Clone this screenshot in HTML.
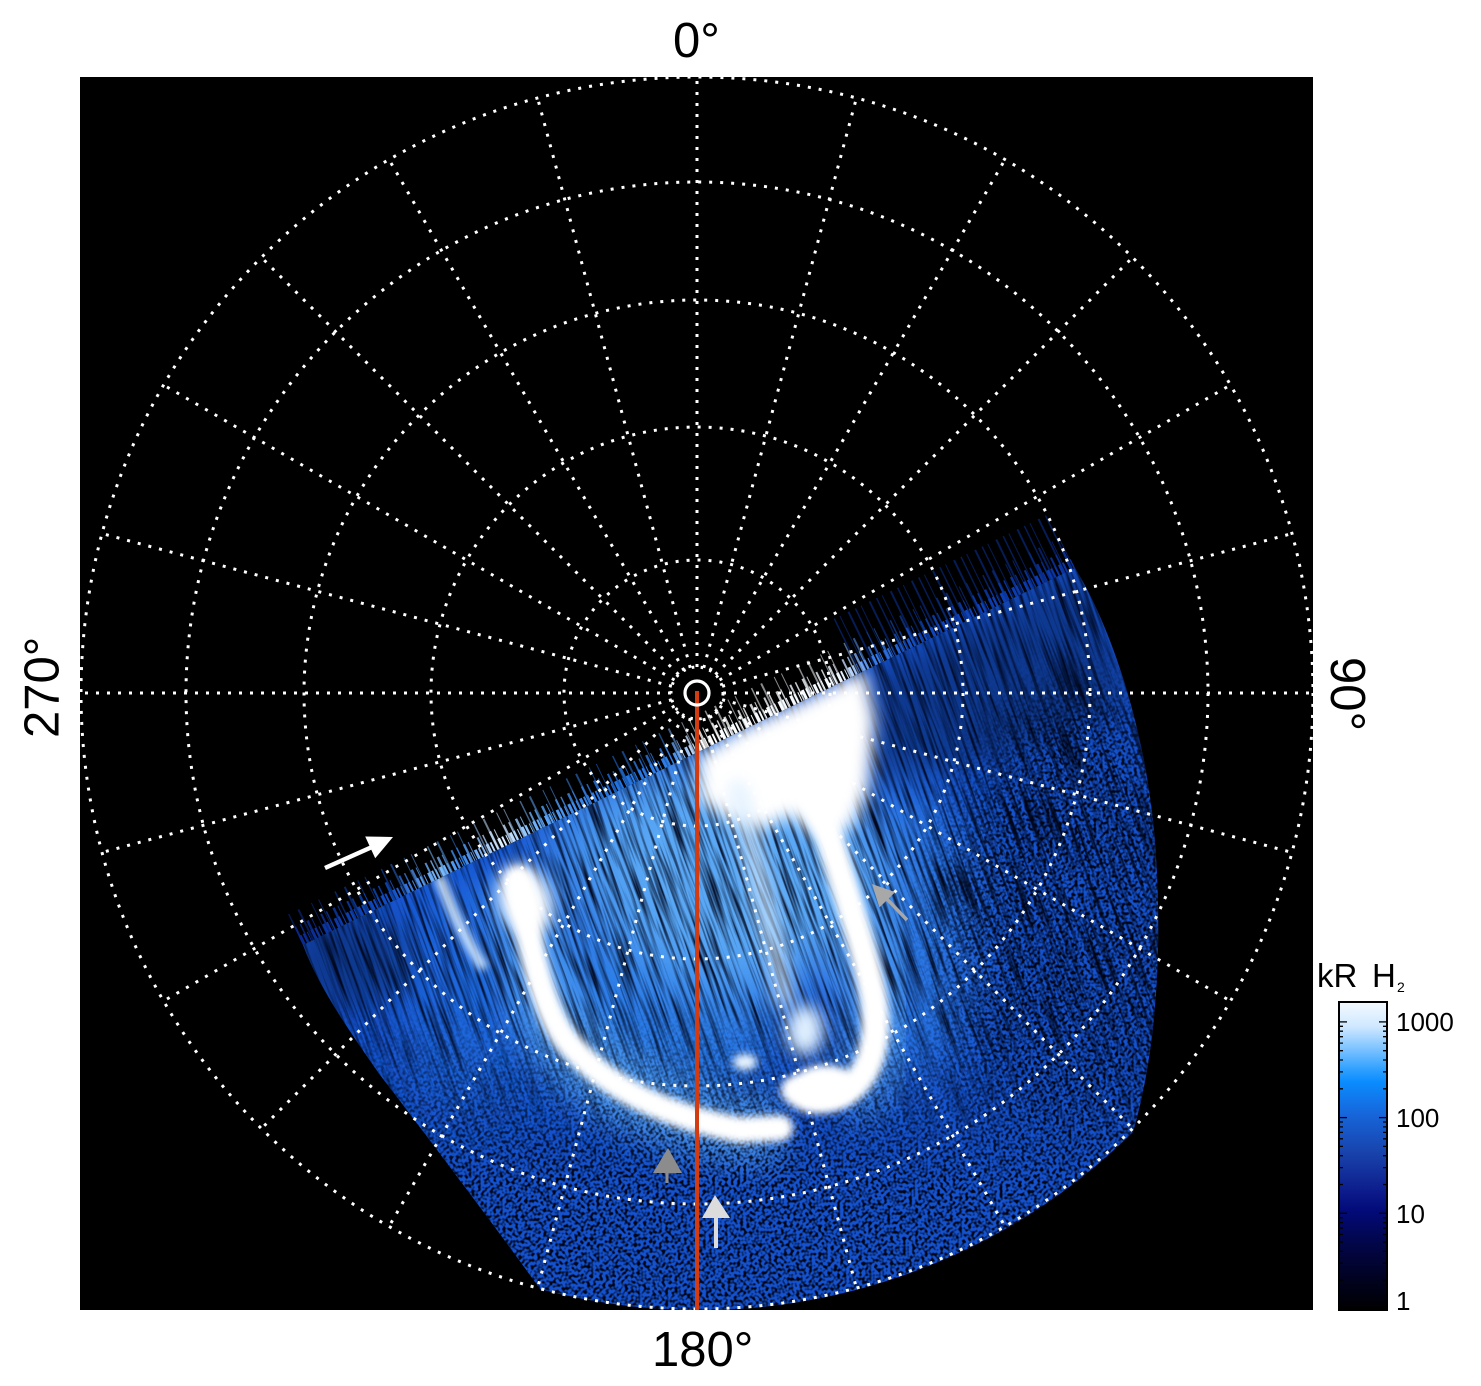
<!DOCTYPE html>
<html><head><meta charset="utf-8"><style>html,body{margin:0;padding:0;background:#fff;width:1481px;height:1386px;overflow:hidden}svg{display:block}</style></head>
<body>
<svg width="1481" height="1386" viewBox="0 0 1481 1386" xmlns="http://www.w3.org/2000/svg" font-family="'Liberation Sans', Arial, sans-serif">
<defs>
  <clipPath id="reg">
    <path d="M303,945 L1075,568 C1110,625 1142,720 1153,820 C1163,920 1160,1040 1133,1132 A616,616 0 0,1 540,1289 C505,1240 430,1140 380,1075 C345,1025 318,985 303,945 Z"/>
  </clipPath>
  <filter id="b4" x="-50%" y="-50%" width="200%" height="200%"><feGaussianBlur stdDeviation="4"/></filter>
  <filter id="b8" x="-50%" y="-50%" width="200%" height="200%"><feGaussianBlur stdDeviation="8"/></filter>
  <filter id="b15" x="-50%" y="-50%" width="200%" height="200%"><feGaussianBlur stdDeviation="15"/></filter>
  <filter id="b30" x="-60%" y="-60%" width="220%" height="220%"><feGaussianBlur stdDeviation="30"/></filter>
  <filter id="fStreak" x="0" y="0" width="1" height="1" color-interpolation-filters="sRGB">
    <feTurbulence type="fractalNoise" baseFrequency="0.28 0.014" numOctaves="2" seed="4"/>
    <feColorMatrix type="matrix" values="0 0 0 0 0  0 0 0 0 0.03  0 0 0 0 0.12  -2.6 0 0 0 1.5"/>
  </filter>
  <filter id="fSpeck" x="0" y="0" width="1" height="1" color-interpolation-filters="sRGB">
    <feTurbulence type="fractalNoise" baseFrequency="0.32" numOctaves="1" seed="9"/>
    <feColorMatrix type="matrix" values="0 0 0 0 0  0 0 0 0 0.02  0 0 0 0 0.08  -4 0 0 0 2.3"/>
  </filter>
  <linearGradient id="gStreakM" gradientUnits="userSpaceOnUse" x1="0" y1="1000" x2="0" y2="1180">
    <stop offset="0" stop-color="#fff"/><stop offset="1" stop-color="#000"/>
  </linearGradient>
  <linearGradient id="gSpeckM" gradientUnits="userSpaceOnUse" x1="0" y1="1000" x2="0" y2="1180">
    <stop offset="0" stop-color="#000"/><stop offset="1" stop-color="#fff"/>
  </linearGradient>
  <mask id="mStreak" maskUnits="userSpaceOnUse" x="0" y="0" width="1481" height="1386">
    <rect x="0" y="0" width="1481" height="1386" fill="url(#gStreakM)"/>
  </mask>
  <mask id="mSpeck" maskUnits="userSpaceOnUse" x="0" y="0" width="1481" height="1386">
    <rect x="0" y="0" width="1481" height="1386" fill="url(#gSpeckM)"/>
    <ellipse cx="1080" cy="930" rx="130" ry="240" fill="#fff" filter="url(#b30)"/>
  </mask>
  <linearGradient id="gEdge" gradientUnits="userSpaceOnUse" x1="303" y1="945" x2="1075" y2="568">
    <stop offset="0" stop-color="#0a2a90"/>
    <stop offset="0.12" stop-color="#1050c8"/>
    <stop offset="0.18" stop-color="#80c0ff"/>
    <stop offset="0.21" stop-color="#3080e8"/>
    <stop offset="0.26" stop-color="#e0f0ff"/>
    <stop offset="0.31" stop-color="#60a8f8"/>
    <stop offset="0.40" stop-color="#2070e0"/>
    <stop offset="0.48" stop-color="#3080e8"/>
    <stop offset="0.52" stop-color="#ffffff"/>
    <stop offset="0.70" stop-color="#f0f8ff"/>
    <stop offset="0.74" stop-color="#3a80e8"/>
    <stop offset="0.80" stop-color="#1048c0"/>
    <stop offset="1" stop-color="#0a35a8"/>
  </linearGradient>
  <linearGradient id="gBar" x1="0" y1="0" x2="0" y2="1">
    <stop offset="0" stop-color="#f4faff"/>
    <stop offset="0.08" stop-color="#cfe8ff"/>
    <stop offset="0.15" stop-color="#7fc4ff"/>
    <stop offset="0.22" stop-color="#2ea0ff"/>
    <stop offset="0.26" stop-color="#0a8cff"/>
    <stop offset="0.37" stop-color="#1764d8"/>
    <stop offset="0.5" stop-color="#1840a8"/>
    <stop offset="0.62" stop-color="#0c1a8a"/>
    <stop offset="0.68" stop-color="#020a78"/>
    <stop offset="0.78" stop-color="#02064a"/>
    <stop offset="0.9" stop-color="#010220"/>
    <stop offset="1" stop-color="#000000"/>
  </linearGradient>
</defs>

<rect x="0" y="0" width="1481" height="1386" fill="#fff"/>
<rect x="80" y="77" width="1233" height="1233" fill="#000"/>

<!-- edge teeth -->
<g fill="none" stroke="url(#gEdge)">
  <line x1="300.8" y1="940.5" x2="1072.8" y2="563.5" stroke-width="10" stroke-dasharray="3 1.5 2 2.5 1 3"/>
  <line x1="298.6" y1="936" x2="1070.6" y2="559" stroke-width="20" stroke-dasharray="2 4 1.5 6 2.5 3 1 9" opacity="0.8"/>
  <line x1="295.5" y1="929.7" x2="1067.5" y2="552.7" stroke-width="34" stroke-dasharray="1.5 9 2 13 1 7 1 17" opacity="0.55"/>
</g>
<line x1="846.8" y1="646" x2="1061.8" y2="541" stroke="#0a3090" stroke-width="60" stroke-dasharray="1.5 5 1 8 2 6" opacity="0.6"/>

<!-- aurora -->
<g clip-path="url(#reg)">
  <rect x="80" y="500" width="1233" height="810" fill="#1552cf"/>
  <ellipse cx="470" cy="990" rx="70" ry="120" fill="#1e66dc" filter="url(#b30)"/>
  <ellipse cx="660" cy="1000" rx="130" ry="110" fill="#2a7ae6" filter="url(#b30)"/>
  <ellipse cx="910" cy="930" rx="60" ry="150" fill="#2a78e6" filter="url(#b30)"/>
  <ellipse cx="630" cy="850" rx="90" ry="70" fill="#3f90ee" filter="url(#b30)"/>
  <ellipse cx="740" cy="870" rx="140" ry="120" fill="#5aa8f5" filter="url(#b30)"/>
  <path d="M518,880 C530,940 540,1010 570,1045 C605,1085 660,1115 740,1130 L780,1128" fill="none" stroke="#5aa8f6" stroke-width="70" opacity="0.7" filter="url(#b15)"/>
  <path d="M815,790 C835,860 860,930 872,990 C882,1040 870,1080 840,1095" fill="none" stroke="#5aa8f6" stroke-width="70" opacity="0.6" filter="url(#b15)"/>
  <polygon points="860,680 1080,565 1135,700 1000,760 870,780" fill="#000" opacity="0.3" filter="url(#b15)"/>
  <ellipse cx="350" cy="960" rx="60" ry="50" fill="#000" opacity="0.3" filter="url(#b15)"/>

  <g mask="url(#mStreak)">
    <rect x="-140" y="550" width="1110" height="640" fill="#000" transform="skewX(20)" filter="url(#fStreak)"/>
  </g>
  <g mask="url(#mSpeck)">
    <rect x="80" y="540" width="1233" height="770" fill="#000" filter="url(#fSpeck)"/>
  </g>

  <!-- bright features -->
  <path d="M440,880 C452,910 465,940 482,965" fill="none" stroke="#cfe6ff" stroke-width="10" stroke-linecap="round" filter="url(#b4)"/>
  <ellipse cx="525" cy="900" rx="25" ry="36" fill="#fff" transform="rotate(-20 525 900)" filter="url(#b8)"/>
  <path d="M518,880 C530,940 540,1010 570,1045 C605,1085 660,1115 740,1130 L780,1128" fill="none" stroke="#fff" stroke-width="26" stroke-linecap="round" filter="url(#b4)"/>
  <polygon points="698,757 740,730 800,702 865,670 875,720 868,790 850,830 815,835 790,815 760,830 730,820 700,800" fill="#fff" filter="url(#b8)"/>
  <path d="M738,790 C755,860 772,930 785,1000" fill="none" stroke="#d8ecff" stroke-width="18" stroke-linecap="round" opacity="0.75" filter="url(#b8)"/>
  <path d="M815,790 C835,860 860,930 872,990 C882,1040 870,1080 840,1095 C820,1103 805,1100 795,1090" fill="none" stroke="#fff" stroke-width="28" stroke-linecap="round" filter="url(#b4)"/>
  <ellipse cx="825" cy="1085" rx="32" ry="20" fill="#fff" filter="url(#b4)"/>
  <ellipse cx="805" cy="1030" rx="18" ry="25" fill="#e0f0ff" filter="url(#b8)"/>
  <ellipse cx="745" cy="1062" rx="12" ry="8" fill="#e8f4ff" filter="url(#b4)"/>
</g>

<!-- polar grid -->
<g fill="none" stroke="#fff" stroke-width="3" stroke-dasharray="3 8">
  <circle cx="697" cy="693" r="616"/>
  <circle cx="697" cy="693" r="511"/>
  <circle cx="697" cy="693" r="393"/>
  <circle cx="697" cy="693" r="266"/>
  <circle cx="697" cy="693" r="133"/>
  <circle cx="697" cy="693" r="26" stroke-dasharray="2.6 6.4"/>
  <line x1="697" y1="667" x2="697" y2="77"/>
  <line x1="697" y1="667" x2="697" y2="77" transform="rotate(15 697 693)"/>
  <line x1="697" y1="667" x2="697" y2="77" transform="rotate(30 697 693)"/>
  <line x1="697" y1="667" x2="697" y2="77" transform="rotate(45 697 693)"/>
  <line x1="697" y1="667" x2="697" y2="77" transform="rotate(60 697 693)"/>
  <line x1="697" y1="667" x2="697" y2="77" transform="rotate(75 697 693)"/>
  <line x1="697" y1="667" x2="697" y2="77" transform="rotate(90 697 693)"/>
  <line x1="697" y1="667" x2="697" y2="77" transform="rotate(105 697 693)"/>
  <line x1="697" y1="667" x2="697" y2="77" transform="rotate(120 697 693)"/>
  <line x1="697" y1="667" x2="697" y2="77" transform="rotate(135 697 693)"/>
  <line x1="697" y1="667" x2="697" y2="77" transform="rotate(150 697 693)"/>
  <line x1="697" y1="667" x2="697" y2="77" transform="rotate(165 697 693)"/>
  <line x1="697" y1="667" x2="697" y2="77" transform="rotate(180 697 693)"/>
  <line x1="697" y1="667" x2="697" y2="77" transform="rotate(195 697 693)"/>
  <line x1="697" y1="667" x2="697" y2="77" transform="rotate(210 697 693)"/>
  <line x1="697" y1="667" x2="697" y2="77" transform="rotate(225 697 693)"/>
  <line x1="697" y1="667" x2="697" y2="77" transform="rotate(240 697 693)"/>
  <line x1="697" y1="667" x2="697" y2="77" transform="rotate(255 697 693)"/>
  <line x1="697" y1="667" x2="697" y2="77" transform="rotate(270 697 693)"/>
  <line x1="697" y1="667" x2="697" y2="77" transform="rotate(285 697 693)"/>
  <line x1="697" y1="667" x2="697" y2="77" transform="rotate(300 697 693)"/>
  <line x1="697" y1="667" x2="697" y2="77" transform="rotate(315 697 693)"/>
  <line x1="697" y1="667" x2="697" y2="77" transform="rotate(330 697 693)"/>
  <line x1="697" y1="667" x2="697" y2="77" transform="rotate(345 697 693)"/>
</g>

<!-- red meridian & centre -->
<line x1="697" y1="691" x2="697" y2="1310" stroke="#d23c10" stroke-width="4"/>
<circle cx="697" cy="693" r="12" fill="none" stroke="#fff" stroke-width="3.2"/>

<!-- arrows -->
<line x1="325" y1="868" x2="372" y2="847" stroke="#fff" stroke-width="4.5"/>
<polygon points="393,837 375.2,858.3 365.2,836.5" fill="#fff"/>
<line x1="907" y1="920" x2="886" y2="898" stroke="#a8a8a8" stroke-width="3.5"/>
<polygon points="872,884 895.2,892.1 879.4,907.5" fill="#a8a8a8"/>
<line x1="667" y1="1170" x2="667" y2="1183" stroke="#8c8c8c" stroke-width="3"/>
<polygon points="668,1148 653,1173 682,1173" fill="#8c8c8c"/>
<line x1="716" y1="1215" x2="716" y2="1248" stroke="#dcdcdc" stroke-width="4"/>
<polygon points="715,1195 702,1218 730,1218" fill="#dcdcdc"/>

<!-- axis labels -->
<text x="673" y="57" font-size="49" fill="#000">0°</text>
<text x="652" y="1366" font-size="49" fill="#000">180°</text>
<text transform="translate(58.5,738) rotate(-90)" font-size="49" fill="#000">270°</text>
<text transform="translate(1331,657) rotate(90)" font-size="49" fill="#000">90°</text>

<!-- colorbar -->
<rect x="1339" y="1002" width="48" height="308" fill="url(#gBar)" stroke="#000" stroke-width="2"/>
<g stroke="#000" stroke-width="1.3">
  <line x1="1339" y1="1213.3" x2="1347" y2="1213.3"/><line x1="1387" y1="1213.3" x2="1379" y2="1213.3"/>
  <line x1="1339" y1="1117.6" x2="1347" y2="1117.6"/><line x1="1387" y1="1117.6" x2="1379" y2="1117.6"/>
  <line x1="1339" y1="1021.9" x2="1347" y2="1021.9"/><line x1="1387" y1="1021.9" x2="1379" y2="1021.9"/>
  <path d="M1339,1280.2h4M1339,1263.3h4M1339,1251.4h4M1339,1242.1h4M1339,1234.5h4M1339,1228.1h4M1339,1222.6h4M1339,1217.7h4
           M1339,1184.5h4M1339,1167.6h4M1339,1155.7h4M1339,1146.4h4M1339,1138.8h4M1339,1132.4h4M1339,1126.9h4M1339,1122h4
           M1339,1088.8h4M1339,1071.9h4M1339,1060h4M1339,1050.7h4M1339,1043.1h4M1339,1036.7h4M1339,1031.2h4M1339,1026.3h4
           M1387,1280.2h-4M1387,1263.3h-4M1387,1251.4h-4M1387,1242.1h-4M1387,1234.5h-4M1387,1228.1h-4M1387,1222.6h-4M1387,1217.7h-4
           M1387,1184.5h-4M1387,1167.6h-4M1387,1155.7h-4M1387,1146.4h-4M1387,1138.8h-4M1387,1132.4h-4M1387,1126.9h-4M1387,1122h-4
           M1387,1088.8h-4M1387,1071.9h-4M1387,1060h-4M1387,1050.7h-4M1387,1043.1h-4M1387,1036.7h-4M1387,1031.2h-4M1387,1026.3h-4"/>
</g>
<g font-size="26" fill="#000">
  <text x="1396" y="1031">1000</text>
  <text x="1396" y="1127">100</text>
  <text x="1396" y="1223">10</text>
  <text x="1396" y="1310">1</text>
</g>
<text x="1317" y="987" font-size="33" fill="#000">kR</text>
<text x="1372" y="987" font-size="33" fill="#000">H</text>
<text x="1397" y="992" font-size="14" fill="#000">2</text>
</svg>
</body></html>
